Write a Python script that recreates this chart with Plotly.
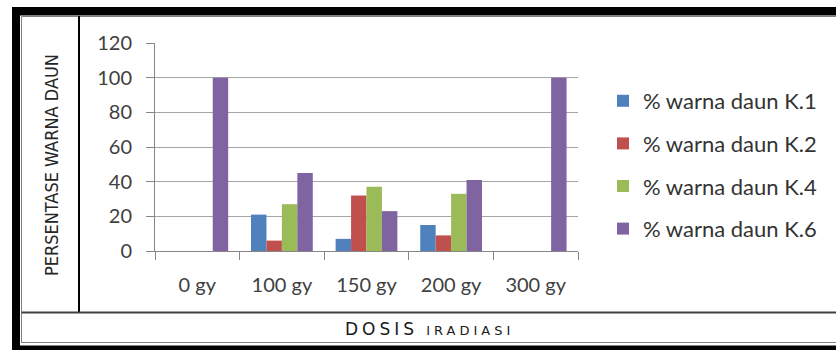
import plotly.graph_objects as go

categories = ["0 gy", "100 gy", "150 gy", "200 gy", "300 gy"]
k1 = [0, 21, 7, 15, 0]
k2 = [0, 6, 32, 9, 0]
k4 = [0, 27, 37, 33, 0]
k6 = [100, 45, 23, 41, 100]
series_names = ["% warna daun K.1", "% warna daun K.2", "% warna daun K.4", "% warna daun K.6"]
colors = ["#4F81BD", "#C0504D", "#9BBB59", "#8064A2"]
y_ticks = [0, 20, 40, 60, 80, 100, 120]

W, H = 836, 350
L, R, T, B = 155, 578, 43, 251


def px(x):
    return (x - L) / (R - L)


def py(y):
    return (B - y) / (B - T)


fig = go.Figure()
for name, vals, col in zip(series_names, [k1, k2, k4, k6], colors):
    fig.add_trace(go.Bar(x=categories, y=vals, name=name, marker=dict(color=col, line=dict(width=0)),
                         legendgroup=name))

shapes = []


def rect(x0, y0, x1, y1, color):
    shapes.append(dict(type="rect", xref="paper", yref="paper", x0=px(x0), x1=px(x1), y0=py(y0), y1=py(y1),
                       fillcolor=color, line=dict(width=0), layer="above"))


def line(x0, y0, x1, y1, color, w):
    shapes.append(dict(type="line", xref="paper", yref="paper", x0=px(x0), x1=px(x1), y0=py(y0), y1=py(y1),
                       line=dict(color=color, width=w), layer="above"))


# outer black frame
rect(12, 7, W, 15.5, "#000000")
rect(12, 7, 20, H, "#000000")
rect(12, 345.5, W, H, "#000000")
# inner thin gray lines
line(21.5, 16.5, 21.5, 343, "#808080", 1)
line(21.5, 16.5, W, 16.5, "#808080", 1)
line(21.5, 342.5, W, 342.5, "#808080", 1)
# separators
line(79, 16, 79, 313, "#000000", 2)
line(21.5, 312.5, W, 312.5, "#404040", 2)

fig.update_layout(
    width=W, height=H,
    margin=dict(l=L, r=W - R, t=T, b=H - B),
    paper_bgcolor="white", plot_bgcolor="white",
    barmode="group", bargap=0.27, bargroupgap=0,
    font=dict(family="Lato, Open Sans, sans-serif", size=17, color="#404040"),
    shapes=shapes,
    showlegend=True,
    legend=dict(x=px(603), xanchor="left", y=py(80), yanchor="top",
                font=dict(size=22, color="#333333"), tracegroupgap=11,
                bgcolor="rgba(0,0,0,0)"),
    annotations=[
        dict(text="PERSENTASE WARNA DAUN", textangle=-90, xref="paper", yref="paper",
             x=px(51), y=py(165), xanchor="center", yanchor="middle", showarrow=False,
             font=dict(family="DejaVu Sans Condensed, Liberation Sans Narrow, sans-serif", size=18, color="#262626")),
        dict(text="<span style='font-size:17px;letter-spacing:4px'>DOSIS</span>"
                  "<span style='font-size:13px;letter-spacing:4px'> IRADIASI</span>",
             xref="paper", yref="paper", x=px(429), y=py(329), xanchor="center", yanchor="middle", showarrow=False,
             font=dict(family="DejaVu Sans, sans-serif", size=17, color="#1a1a1a")),
    ],
)
fig.update_xaxes(showline=True, linecolor="#868686", linewidth=1, ticks="outside", ticklen=8,
                 tickcolor="#868686", tickson="boundaries", showgrid=False, ticklabelstandoff=16,
                 tickfont=dict(size=20, color="#404040"))
fig.update_yaxes(range=[0, 120], tickvals=y_ticks, showline=True, linecolor="#868686", linewidth=1,
                 ticks="outside", ticklen=8, tickcolor="#868686", showgrid=True, gridcolor="#A6A6A6",
                 gridwidth=1, zeroline=False, ticklabelstandoff=10,
                 tickfont=dict(size=20, color="#404040"))

fig.write_html("out.html")
